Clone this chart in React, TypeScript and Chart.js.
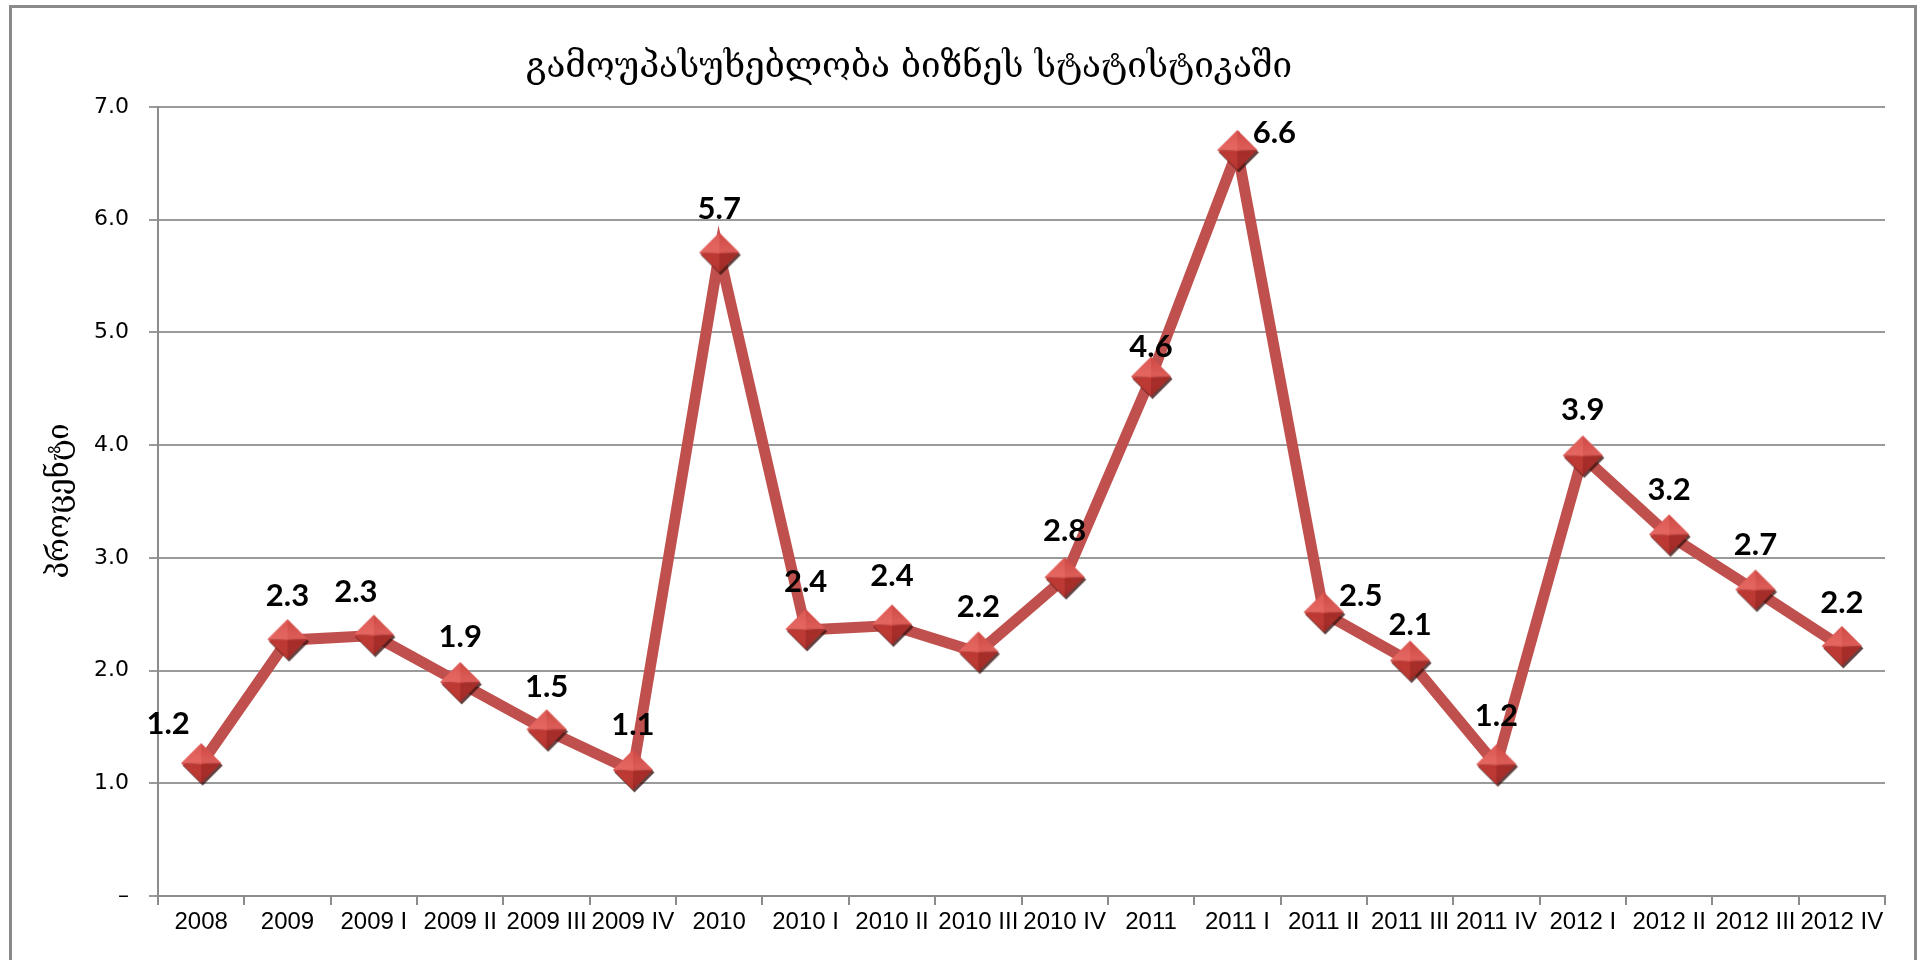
import React, { useEffect, useRef } from "react";
import { Chart, registerables } from "chart.js";

Chart.register(...registerables);

const chartTitle = "გამოუპასუხებლობა ბიზნეს სტატისტიკაში";
const yAxisTitle = "პროცენტი";

const categories = [
  "2008", "2009", "2009 I", "2009 II", "2009 III", "2009 IV",
  "2010", "2010 I", "2010 II", "2010 III", "2010 IV",
  "2011", "2011 I", "2011 II", "2011 III", "2011 IV",
  "2012 I", "2012 II", "2012 III", "2012 IV",
];

const values = [
  1.17, 2.27, 2.31, 1.89, 1.47, 1.11,
  5.7, 2.36, 2.4, 2.16, 2.82,
  4.6, 6.61, 2.51, 2.08, 1.16,
  3.9, 3.2, 2.71, 2.21,
];

const yTickLabels = ["–", "1.0", "2.0", "3.0", "4.0", "5.0", "6.0", "7.0"];

// label placement relative to each point (style only)
const labelShift: [number, number][] = [
  [-33, -40], [0, -44], [-18, -44], [0, -46], [0, -43], [0, -46],
  [0, -45], [0, -48], [0, -49], [0, -46], [0, -47],
  [0, -31], [37, -18], [37, -17], [0, -37], [0, -49],
  [0, -46], [0, -45], [0, -46], [0, -44],
];

function makeMarker(): HTMLCanvasElement {
  const S = 52;
  const c = document.createElement("canvas");
  c.width = S;
  c.height = S;
  const g = c.getContext("2d")!;
  const cx = 26, cy = 25, r = 20;
  const T = [cx, cy - r], R = [cx + r, cy], B = [cx, cy + r], L = [cx - r, cy];
  const diamond = () => {
    g.beginPath();
    g.moveTo(T[0], T[1]); g.lineTo(R[0], R[1]); g.lineTo(B[0], B[1]); g.lineTo(L[0], L[1]);
    g.closePath();
  };
  g.save();
  g.translate(1.5, 2.5);
  g.fillStyle = "rgba(60,18,16,0.8)";
  diamond();
  g.fill();
  g.restore();
  const C = [cx, cy + 1];
  const facet = (a: number[], b: number[], col: string) => {
    g.fillStyle = col;
    g.beginPath();
    g.moveTo(a[0], a[1]); g.lineTo(b[0], b[1]); g.lineTo(C[0], C[1]);
    g.closePath();
    g.fill();
  };
  facet(L, T, "#dc5752");
  facet(T, R, "#d04944");
  facet(L, B, "#bd3833");
  facet(B, R, "#a62c28");
  const grad = g.createLinearGradient(0, cy - r, 0, cy + r);
  grad.addColorStop(0, "rgba(255,150,145,0.0)");
  grad.addColorStop(0.45, "rgba(255,150,145,0.25)");
  grad.addColorStop(0.55, "rgba(255,150,145,0.0)");
  grad.addColorStop(1, "rgba(80,0,0,0.1)");
  g.fillStyle = grad;
  diamond();
  g.fill();
  return c;
}

const framePlugin = {
  id: "frame",
  beforeDraw(chart: any) {
    const ctx = chart.ctx;
    ctx.save();
    ctx.fillStyle = "#ffffff";
    ctx.fillRect(0, 0, chart.width, chart.height);
    ctx.strokeStyle = "#8a8a8a";
    ctx.lineWidth = 3;
    ctx.strokeRect(10.5, 6.5, 1905, 1000);
    ctx.restore();
  },
  afterDraw(chart: any) {
    const ctx = chart.ctx;
    ctx.save();
    ctx.fillStyle = "#000";
    ctx.textAlign = "center";
    ctx.textBaseline = "middle";
    ctx.font = "35px 'DejaVu Serif', 'DejaVu Sans', serif";
    ctx.fillText(chartTitle, 909, 68);
    ctx.translate(60, 501);
    ctx.rotate(-Math.PI / 2);
    ctx.font = "29px 'DejaVu Serif', 'DejaVu Sans', serif";
    ctx.fillText(yAxisTitle, 0, 0);
    ctx.restore();
  },
};

const labelPlugin = {
  id: "pointLabels",
  afterDatasetsDraw(chart: any) {
    const ctx = chart.ctx;
    const meta = chart.getDatasetMeta(0);
    ctx.save();
    ctx.fillStyle = "#000";
    ctx.textAlign = "center";
    ctx.textBaseline = "middle";
    ctx.font = "bold 31px Lato, 'Open Sans', sans-serif";
    meta.data.forEach((pt: any, i: number) => {
      const [dx, dy] = labelShift[i];
      ctx.fillText(values[i].toFixed(1), pt.x + dx, pt.y + dy);
    });
    ctx.restore();
  },
};

export default function App() {
  const ref = useRef<HTMLCanvasElement | null>(null);
  useEffect(() => {
    document.body.style.margin = "0";
    const marker = makeMarker();
    const chart = new Chart(ref.current!, {
      type: "line",
      data: {
        labels: categories,
        datasets: [
          {
            data: values,
            borderColor: "#C0504D",
            borderWidth: 11,
            tension: 0,
            pointStyle: marker as any,
            pointRadius: 20,
            pointHoverRadius: 20,
            fill: false,
          },
        ],
      },
      options: {
        animation: false,
        responsive: false,
        devicePixelRatio: 1,
        layout: { padding: { top: 107, left: 0, right: 34, bottom: 4 } },
        plugins: {
          legend: { display: false },
          title: { display: false },
          tooltip: { enabled: false },
        },
        scales: {
          x: {
            offset: true,
            grid: {
              offset: true,
              drawOnChartArea: false,
              drawTicks: true,
              tickLength: 9,
              color: "#8c8c8c",
              lineWidth: 2,
            },
            border: { color: "#8c8c8c", width: 2 },
            ticks: {
              color: "#000",
              padding: 3,
              maxRotation: 0,
              autoSkip: false,
              font: { family: "'Liberation Sans Narrow', 'Liberation Sans', sans-serif", size: 24 },
            },
            afterFit(scale: any) {
              scale.height = 60;
            },
          },
          y: {
            min: 0,
            max: 7,
            ticks: {
              stepSize: 1,
              color: "#000",
              padding: 20,
              font: { family: "'DejaVu Sans', sans-serif", size: 22 },
              callback: (v: any) => yTickLabels[Math.round(Number(v))],
            },
            grid: {
              color: "#9a9a9a",
              lineWidth: 2,
              tickLength: 9,
            },
            border: { color: "#8c8c8c", width: 2 },
            afterFit(scale: any) {
              scale.width = 158;
            },
          },
        },
      },
      plugins: [framePlugin, labelPlugin],
    });
    return () => chart.destroy();
  }, []);
  return (
    <div style={{ position: "fixed", left: 0, top: 0, width: 1919, height: 960 }}>
      <canvas ref={ref} width={1919} height={960} />
    </div>
  );
}
